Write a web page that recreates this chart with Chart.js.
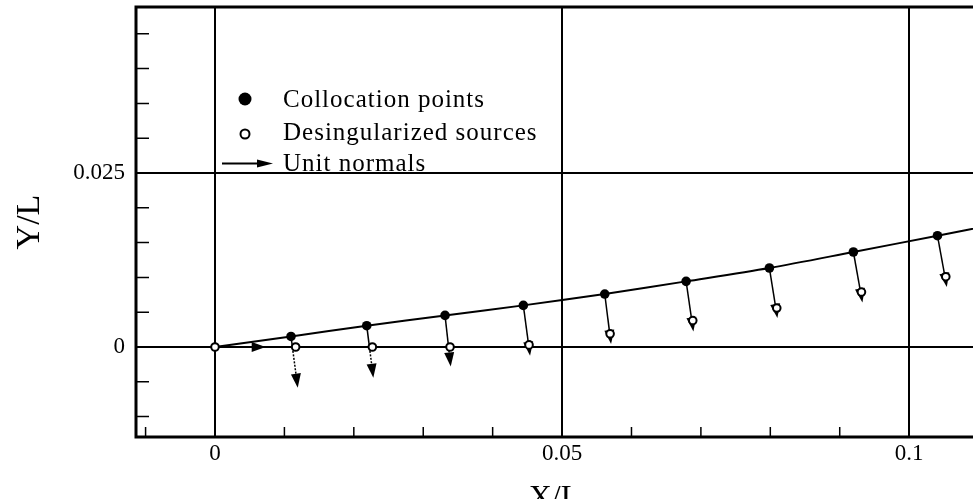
<!DOCTYPE html>
<html>
<head>
<meta charset="utf-8">
<script src="https://cdn.jsdelivr.net/npm/chart.js@4"></script>
<style>
  html, body { margin: 0; padding: 0; background: #fff; }
  #wrap { width: 973px; height: 499px; }
</style>
</head>
<body>
<div id="wrap"><canvas id="c" width="973" height="499"></canvas></div>
<script>
// Body surface (X/L, Y/L)
const surfaceX = [0, 0.01095, 0.02186, 0.03314, 0.04442, 0.05615, 0.06787, 0.07987, 0.09197, 0.10408, 0.1125];
const surfaceY = [0, 0.00152, 0.00306, 0.00454, 0.00598, 0.00761, 0.00943, 0.01135, 0.01365, 0.01599, 0.01762];

// Collocation points on the surface
const collocX = [0.01095, 0.02186, 0.03314, 0.04442, 0.05615, 0.06787, 0.07987, 0.09197, 0.10408];
const collocY = [0.00152, 0.00306, 0.00454, 0.00598, 0.00761, 0.00943, 0.01135, 0.01365, 0.01599];

// Desingularized source points
const sourceX = [0, 0.01162, 0.02267, 0.03386, 0.04524, 0.05692, 0.06883, 0.08093, 0.09313, 0.10528];
const sourceY = [0, 0, 0, 0, 0.0003, 0.0019, 0.0038, 0.0056, 0.0079, 0.0101];

// Unit normals: tail and head of each arrow
const normalFromX = [0, 0.01095, 0.02186, 0.03314, 0.04442, 0.05615, 0.06787, 0.07987, 0.09197, 0.10408];
const normalFromY = [0, 0.00152, 0.00306, 0.00454, 0.00598, 0.00761, 0.00943, 0.01135, 0.01365, 0.01599];
const normalToX = [0.0073, 0.01192, 0.02281, 0.03396, 0.04539, 0.05706, 0.06892, 0.08102, 0.09327, 0.10543];
const normalToY = [0, -0.00584, -0.00441, -0.00279, -0.00125, 0.00043, 0.00224, 0.00417, 0.00641, 0.00862];

// Axis ticks
const xMajorTicks = [0, 0.05, 0.1];
const xTickLabels = ['0', '0.05', '0.1'];
const xMinorTicks = [-0.01, 0.01, 0.02, 0.03, 0.04, 0.06, 0.07, 0.08, 0.09];
const yMajorTicks = [0, 0.025];
const yTickLabels = ['0', '0.025'];
const yMinorTicks = [-0.01, -0.005, 0.005, 0.01, 0.015, 0.02, 0.03, 0.035, 0.04, 0.045];

const legendLabels = ['Collocation points', 'Desingularized sources', 'Unit normals'];

const SERIF = '"Liberation Serif", "DejaVu Serif", serif';

const toPts = (xs, ys) => xs.map((x, i) => ({ x: x, y: ys[i] }));

// Arrow from (x0,y0) to (x1,y1); the shaft turns dotted past the point (sx,sy) if given
function arrow(ctx, x0, y0, x1, y1, headLen, headHalf, width, sx, sy) {
  const dx = x1 - x0, dy = y1 - y0;
  const len = Math.hypot(dx, dy);
  const ux = dx / len, uy = dy / len;
  const shaft = len - headLen;
  const bx = x1 - ux * headLen, by = y1 - uy * headLen;
  let split = shaft;
  if (sx !== undefined) {
    split = Math.max(0, Math.min(shaft, (sx - x0) * ux + (sy - y0) * uy));
  }
  ctx.lineWidth = width;
  if (split > 0) {
    ctx.beginPath();
    ctx.moveTo(x0, y0);
    ctx.lineTo(x0 + ux * split, y0 + uy * split);
    ctx.stroke();
  }
  if (split < shaft) {
    ctx.save();
    ctx.setLineDash([2, 1.5]);
    ctx.beginPath();
    ctx.moveTo(x0 + ux * split, y0 + uy * split);
    ctx.lineTo(bx, by);
    ctx.stroke();
    ctx.restore();
  }
  ctx.beginPath();
  ctx.moveTo(x1, y1);
  ctx.lineTo(bx - uy * headHalf, by + ux * headHalf);
  ctx.lineTo(bx + uy * headHalf, by - ux * headHalf);
  ctx.closePath();
  ctx.fill();
}

// Drop the extra edge padding Chart.js reserves for tick labels
function noEdgePadding(s) {
  s.paddingTop = 0; s.paddingBottom = 0; s.paddingLeft = 0; s.paddingRight = 0;
}

// Frame, inward minor ticks and normal vectors
const framePlugin = {
  id: 'frame',
  beforeDatasetsDraw(chart) {
    const { ctx, chartArea: a, scales: { x, y } } = chart;
    ctx.save();
    ctx.strokeStyle = '#000';
    ctx.fillStyle = '#000';
    ctx.lineWidth = 1.5;
    ctx.beginPath();
    xMinorTicks.forEach(v => {
      const px = x.getPixelForValue(v);
      ctx.moveTo(px, a.bottom);
      ctx.lineTo(px, a.bottom - 10);
    });
    yMinorTicks.forEach(v => {
      const py = y.getPixelForValue(v);
      ctx.moveTo(a.left, py);
      ctx.lineTo(a.left + 13, py);
    });
    ctx.stroke();

    ctx.lineWidth = 3;
    ctx.beginPath();
    ctx.moveTo(a.right + 2, a.top);
    ctx.lineTo(a.left, a.top);
    ctx.lineTo(a.left, a.bottom);
    ctx.lineTo(a.right + 2, a.bottom);
    ctx.stroke();

    ctx.beginPath();
    ctx.rect(a.left, a.top, a.right - a.left, a.bottom - a.top);
    ctx.clip();
    normalFromX.forEach((v, i) => {
      arrow(ctx,
        x.getPixelForValue(v), y.getPixelForValue(normalFromY[i]),
        x.getPixelForValue(normalToX[i]), y.getPixelForValue(normalToY[i]),
        14, 5, 1.5,
        x.getPixelForValue(sourceX[i]), y.getPixelForValue(sourceY[i]));
    });
    ctx.restore();
  }
};

// Key in the upper left of the plot
const keyPlugin = {
  id: 'key',
  afterDraw(chart) {
    const { ctx } = chart;
    ctx.save();
    ctx.fillStyle = '#000';
    ctx.strokeStyle = '#000';
    ctx.font = '25px ' + SERIF;
    if ('letterSpacing' in ctx) ctx.letterSpacing = '1px';
    ctx.textBaseline = 'alphabetic';
    ctx.textAlign = 'left';

    ctx.beginPath();
    ctx.arc(245, 99, 6.5, 0, Math.PI * 2);
    ctx.fill();
    ctx.fillText(legendLabels[0], 283, 107);

    ctx.beginPath();
    ctx.arc(245, 134, 4.5, 0, Math.PI * 2);
    ctx.fillStyle = '#fff';
    ctx.fill();
    ctx.lineWidth = 2;
    ctx.stroke();
    ctx.fillStyle = '#000';
    ctx.fillText(legendLabels[1], 283, 140);

    arrow(ctx, 222, 163.5, 273, 163.5, 16, 4, 1.8);
    ctx.fillText(legendLabels[2], 283, 171);
    ctx.restore();
  }
};

new Chart(document.getElementById('c'), {
  type: 'scatter',
  data: {
    datasets: [
      {
        label: 'Desingularized sources',
        data: toPts(sourceX, sourceY),
        pointRadius: 3.8,
        pointBorderWidth: 2,
        pointBorderColor: '#000',
        pointBackgroundColor: '#fff',
        showLine: false
      },
      {
        label: 'Collocation points',
        data: toPts(collocX, collocY),
        pointRadius: 4.8,
        pointBorderWidth: 0,
        pointBackgroundColor: '#000',
        showLine: false
      },
      {
        label: 'Surface',
        data: toPts(surfaceX, surfaceY),
        showLine: true,
        borderColor: '#000',
        borderWidth: 2,
        pointRadius: 0,
        tension: 0.3,
        fill: false
      }
    ]
  },
  options: {
    responsive: false,
    animation: false,
    devicePixelRatio: 1,
    layout: { autoPadding: false, padding: { top: 7, right: 0, left: 0, bottom: 0 } },
    plugins: {
      legend: { display: false },
      tooltip: { enabled: false }
    },
    scales: {
      x: {
        type: 'linear',
        min: -0.01138,
        max: 0.1092,
        afterBuildTicks: s => { s.ticks = xMajorTicks.map(v => ({ value: v })); },
        afterFit: s => { s.height = 62; noEdgePadding(s); },
        ticks: {
          callback: (v, i) => xTickLabels[i],
          font: { family: SERIF, size: 23 },
          color: '#000',
          padding: 3,
          maxRotation: 0,
          autoSkip: false
        },
        grid: { color: '#000', lineWidth: 2, drawTicks: false },
        border: { display: false },
        title: {
          display: true,
          text: 'X/L',
          color: '#000',
          font: { family: SERIF, size: 32, lineHeight: 1 },
          padding: { top: 0, bottom: -16 }
        }
      },
      y: {
        type: 'linear',
        min: -0.01293,
        max: 0.04885,
        afterBuildTicks: s => { s.ticks = yMajorTicks.map(v => ({ value: v })); },
        afterFit: s => { s.width = 136; noEdgePadding(s); },
        ticks: {
          callback: (v, i) => yTickLabels[i],
          font: { family: SERIF, size: 23 },
          color: '#000',
          padding: 11,
          autoSkip: false
        },
        grid: { color: '#000', lineWidth: 2, drawTicks: false },
        border: { display: false },
        title: {
          display: true,
          text: 'Y/L',
          color: '#000',
          font: { family: SERIF, size: 34, lineHeight: 1 },
          padding: { top: 13, bottom: 0 }
        }
      }
    }
  },
  plugins: [framePlugin, keyPlugin]
});
</script>
</body>
</html>
